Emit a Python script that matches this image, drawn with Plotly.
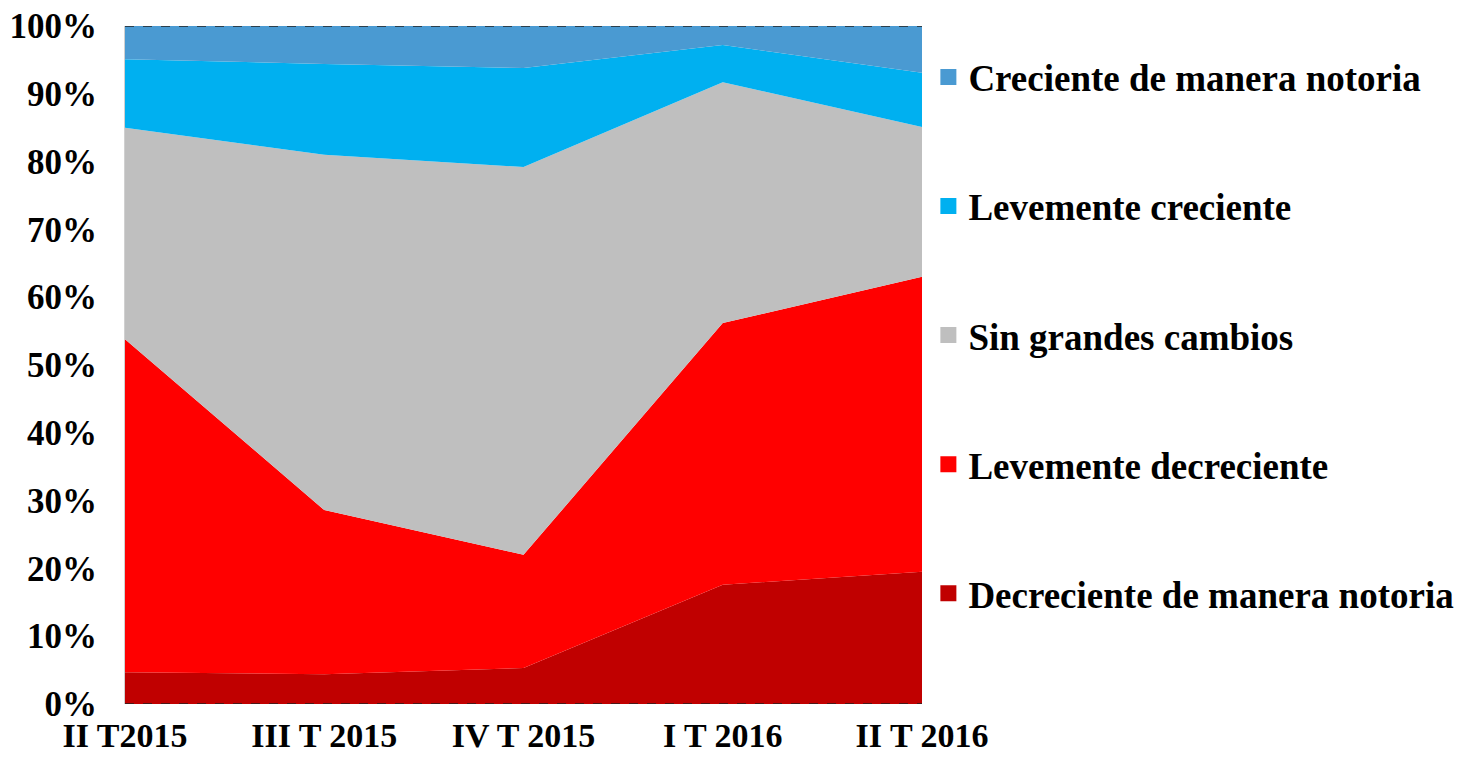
import plotly.graph_objects as go

# trimestres
periodos = ["II T2015", "III T 2015", "IV T 2015", "I T 2016", "II T 2016"]

# porcentajes por categoria (suman 100 en cada trimestre)
decreciente_notoria = [4.7, 4.4, 5.3, 17.6, 19.5]
levemente_decreciente = [49.1, 24.2, 16.7, 38.6, 43.5]
sin_cambios = [31.2, 52.4, 57.2, 35.5, 22.1]
levemente_creciente = [10.1, 13.4, 14.6, 5.5, 8.0]
creciente_notoria = [4.9, 5.6, 6.2, 2.8, 6.9]

y_ticks = list(range(0, 101, 10))

series = [
    ("Decreciente de manera notoria", decreciente_notoria, "#C00000"),
    ("Levemente decreciente", levemente_decreciente, "#FF0000"),
    ("Sin grandes cambios", sin_cambios, "#BFBFBF"),
    ("Levemente creciente", levemente_creciente, "#00B0F0"),
    ("Creciente de manera notoria", creciente_notoria, "#4A9AD2"),
]

font_fam = "Liberation Serif"

fig = go.Figure()
for name, vals, color in series:
    fig.add_trace(go.Scatter(
        x=periodos, y=vals, name=name, stackgroup="one", mode="none",
        fillcolor=color, showlegend=False, hoverinfo="x+y+name",
    ))

# legend entries as square markers (top = last series)
for i, (name, vals, color) in enumerate(series):
    fig.add_trace(go.Scatter(
        x=[None], y=[None], mode="markers", name=name,
        marker=dict(symbol="square", size=19, color=color),
        legendgroup=f"g{i}", legendrank=100 - i,
    ))

# dashed lines at 0% and 100%
for yv in (0, 100):
    fig.add_shape(type="line", xref="paper", yref="y", x0=0, x1=1, y0=yv, y1=yv,
                  line=dict(color="#222222", width=1.5, dash="dash"))

fig.update_layout(
    width=1462, height=757,
    margin=dict(l=117, r=548, t=18, b=61, autoexpand=False),
    paper_bgcolor="white", plot_bgcolor="white",
    font=dict(family=font_fam, color="black"),
    legend=dict(
        x=1.008, xanchor="left", y=0.97, yanchor="top",
        font=dict(family=font_fam, size=37, color="black", weight="bold"),
        tracegroupgap=78, itemsizing="trace",
        bgcolor="rgba(0,0,0,0)",
    ),
    showlegend=True,
)
fig.update_xaxes(
    type="category", range=[0, 4], showgrid=False, zeroline=False,
    showline=False, ticks="", ticklabelstandoff=8, automargin=False,
    ticklabeloverflow="allow",
    tickfont=dict(family=font_fam, size=34, color="black", weight="bold"),
)
fig.update_yaxes(
    range=[0, 100], tickvals=y_ticks, ticktext=[f"{v}%" for v in y_ticks],
    showgrid=False, zeroline=False, showline=True, linecolor="#D0D0D0", linewidth=1,
    ticks="", ticklabelstandoff=20, automargin=False, ticklabeloverflow="allow",
    tickfont=dict(family=font_fam, size=35, color="black", weight="bold"),
)

fig.write_html("out.html")
